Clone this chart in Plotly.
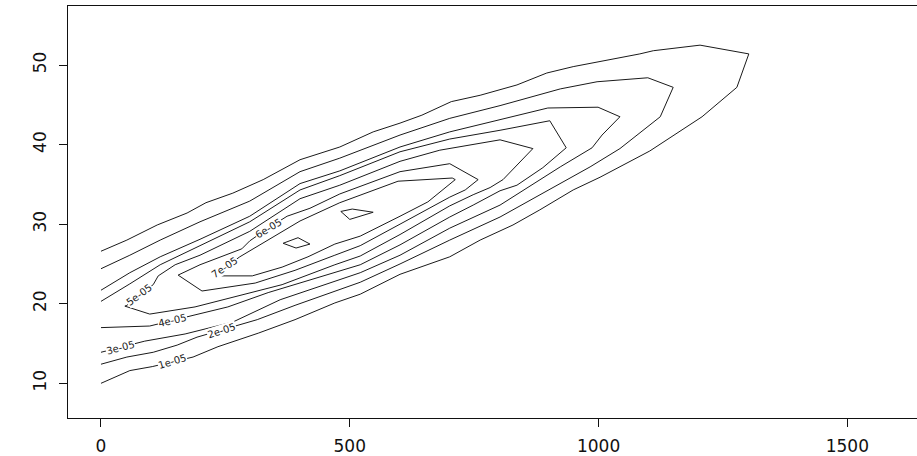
import plotly.graph_objects as go

# Contour levels of the density surface
levels = [1e-05, 2e-05, 3e-05, 4e-05, 5e-05, 6e-05, 7e-05]

# Contour paths (x, y) for each level
c1_x = [0, 58, 103, 185, 235, 316, 390, 470, 521, 601, 701, 762, 828, 882, 949, 1003, 1103, 1208, 1278, 1286,
        1302, 1204, 1110, 1083, 1003, 949, 896, 836, 762, 704, 645, 601, 547, 480, 400, 326, 265, 211, 173, 113,
        52, 0]
c1_y = [10.0, 11.6, 12.1, 13.3, 14.6, 16.3, 18.0, 20.1, 21.2, 23.7, 25.9, 28.0, 29.9, 31.8, 34.3, 35.9, 39.2, 43.5,
        47.2, 48.6, 51.4, 52.5, 51.8, 51.4, 50.5, 49.8, 49.0, 47.5, 46.2, 45.4, 43.7, 42.7, 41.6, 39.7, 38.1, 35.6,
        33.9, 32.7, 31.4, 29.9, 28.0, 26.6]

c2_x = [0, 52, 105, 153, 193, 283, 314, 390, 460, 521, 601, 701, 802, 882, 923, 983, 1043, 1124, 1150,
        1099, 997, 923, 802, 701, 601, 480, 400, 299, 199, 119, 58, 0]
c2_y = [12.4, 13.3, 13.9, 14.8, 15.8, 17.5, 18.0, 19.8, 21.4, 22.7, 25.0, 28.0, 30.9, 33.7, 35.1, 37.2, 39.5, 43.5,
        47.2, 48.4, 47.9, 47.0, 44.9, 43.3, 41.2, 38.3, 36.6, 32.9, 30.3, 28.0, 26.1, 24.4]

c3_x = [0, 88, 169, 265, 360, 460, 521, 601, 701, 802, 882, 923, 987, 1007, 1043,
        999, 898, 802, 701, 601, 480, 400, 299, 199, 119, 58, 0]
c3_y = [13.9, 15.3, 16.2, 17.7, 20.5, 22.6, 23.9, 26.1, 29.5, 32.4, 35.6, 37.2, 39.6, 41.2, 43.5,
        44.7, 44.6, 43.1, 41.6, 39.7, 36.7, 35.1, 31.0, 28.1, 25.9, 23.9, 21.7]

c4_x = [0, 98, 189, 255, 336, 470, 521, 601, 701, 748, 802, 836, 888, 935,
        902, 802, 701, 601, 480, 400, 299, 199, 119, 58, 0]
c4_y = [17.0, 17.2, 18.6, 19.6, 21.4, 23.9, 24.9, 27.4, 30.9, 32.4, 34.2, 34.9, 37.1, 39.6,
        43.0, 41.8, 40.7, 39.1, 36.1, 34.3, 30.3, 27.3, 24.9, 22.5, 20.3]

c5_x = [48, 98, 189, 269, 364, 470, 521, 601, 701, 748, 782, 808, 868,
        802, 681, 601, 480, 400, 299, 199, 149, 115, 105, 52, 48]
c5_y = [19.7, 18.7, 19.6, 20.9, 22.4, 24.9, 26.0, 28.7, 32.3, 33.7, 34.6, 35.6, 39.5,
        40.6, 39.3, 37.9, 34.9, 33.2, 29.1, 26.1, 24.9, 23.5, 22.4, 19.8, 19.7]

c6_x = [155, 203, 310, 390, 470, 521, 601, 701, 732, 758, 701, 601, 480, 420, 374, 336, 299, 283, 199, 155]
c6_y = [23.6, 21.6, 22.6, 24.2, 26.1, 27.3, 30.0, 33.4, 34.3, 35.6, 37.6, 36.6, 33.8, 32.0, 31.0, 29.5, 27.9,
        26.9, 24.9, 23.6]

c7_x = [226, 304, 364, 416, 470, 521, 601, 657, 712, 706, 597, 480, 400, 299, 279, 226]
c7_y = [23.5, 23.5, 24.6, 25.9, 27.5, 28.5, 31.0, 32.8, 35.6, 35.8, 35.4, 32.7, 30.4, 26.6, 25.9, 23.5]

# Two small peaks inside the highest level
peak_a_x = [366, 396, 420, 392, 366]
peak_a_y = [27.6, 28.3, 27.5, 27.0, 27.6]
peak_b_x = [482, 505, 547, 500, 482]
peak_b_y = [31.6, 31.9, 31.5, 30.6, 31.6]

paths_x = [c1_x, c2_x, c3_x, c4_x, c5_x, c6_x, c7_x, peak_a_x, peak_b_x]
paths_y = [c1_y, c2_y, c3_y, c4_y, c5_y, c6_y, c7_y, peak_a_y, peak_b_y]

# Where each level's label sits on its line, and the line's direction there
label_x = [143, 243, 40, 143, 78, 336, 248]
label_y = [12.7, 16.7, 14.5, 17.9, 21.1, 29.5, 24.6]
label_angle = [-17, -18, -15, -13, -37, -31, -34]

x_ticks = [0, 500, 1000, 1500]
y_ticks = [10, 20, 30, 40, 50]

fig = go.Figure()
for px, py in zip(paths_x, paths_y):
    fig.add_trace(go.Scatter(x=px, y=py, mode="lines",
                             line=dict(color="#1a1a1a", width=1),
                             hoverinfo="skip", showlegend=False))

for lv, lx, ly, ang in zip(levels, label_x, label_y, label_angle):
    fig.add_annotation(x=lx, y=ly, text=f"{lv:.0e}", showarrow=False,
                       textangle=ang, bgcolor="white", borderpad=0,
                       font=dict(family="DejaVu Sans, sans-serif", size=10, color="#222222"))

axis_font = dict(family="DejaVu Sans, sans-serif", size=17, color="#111111")
fig.update_layout(
    width=917, height=456,
    margin=dict(l=68, r=0, t=6, b=38),
    paper_bgcolor="white", plot_bgcolor="white",
    showlegend=False,
    xaxis=dict(range=[-66.3, 1640], tickvals=x_ticks, ticks="outside", ticklen=8,
               tickcolor="#111111", showline=True, linecolor="#111111", linewidth=1,
               mirror=True, showgrid=False, zeroline=False, tickfont=axis_font,
               ticklabelstandoff=5),
    yaxis=dict(range=[5.64, 57.42], tickvals=y_ticks, ticks="outside", ticklen=8,
               tickcolor="#111111", showline=True, linecolor="#111111", linewidth=1,
               showgrid=False, zeroline=False, tickfont=axis_font, tickangle=-90,
               ticklabelstandoff=6),
)

fig.write_html("out.html")
